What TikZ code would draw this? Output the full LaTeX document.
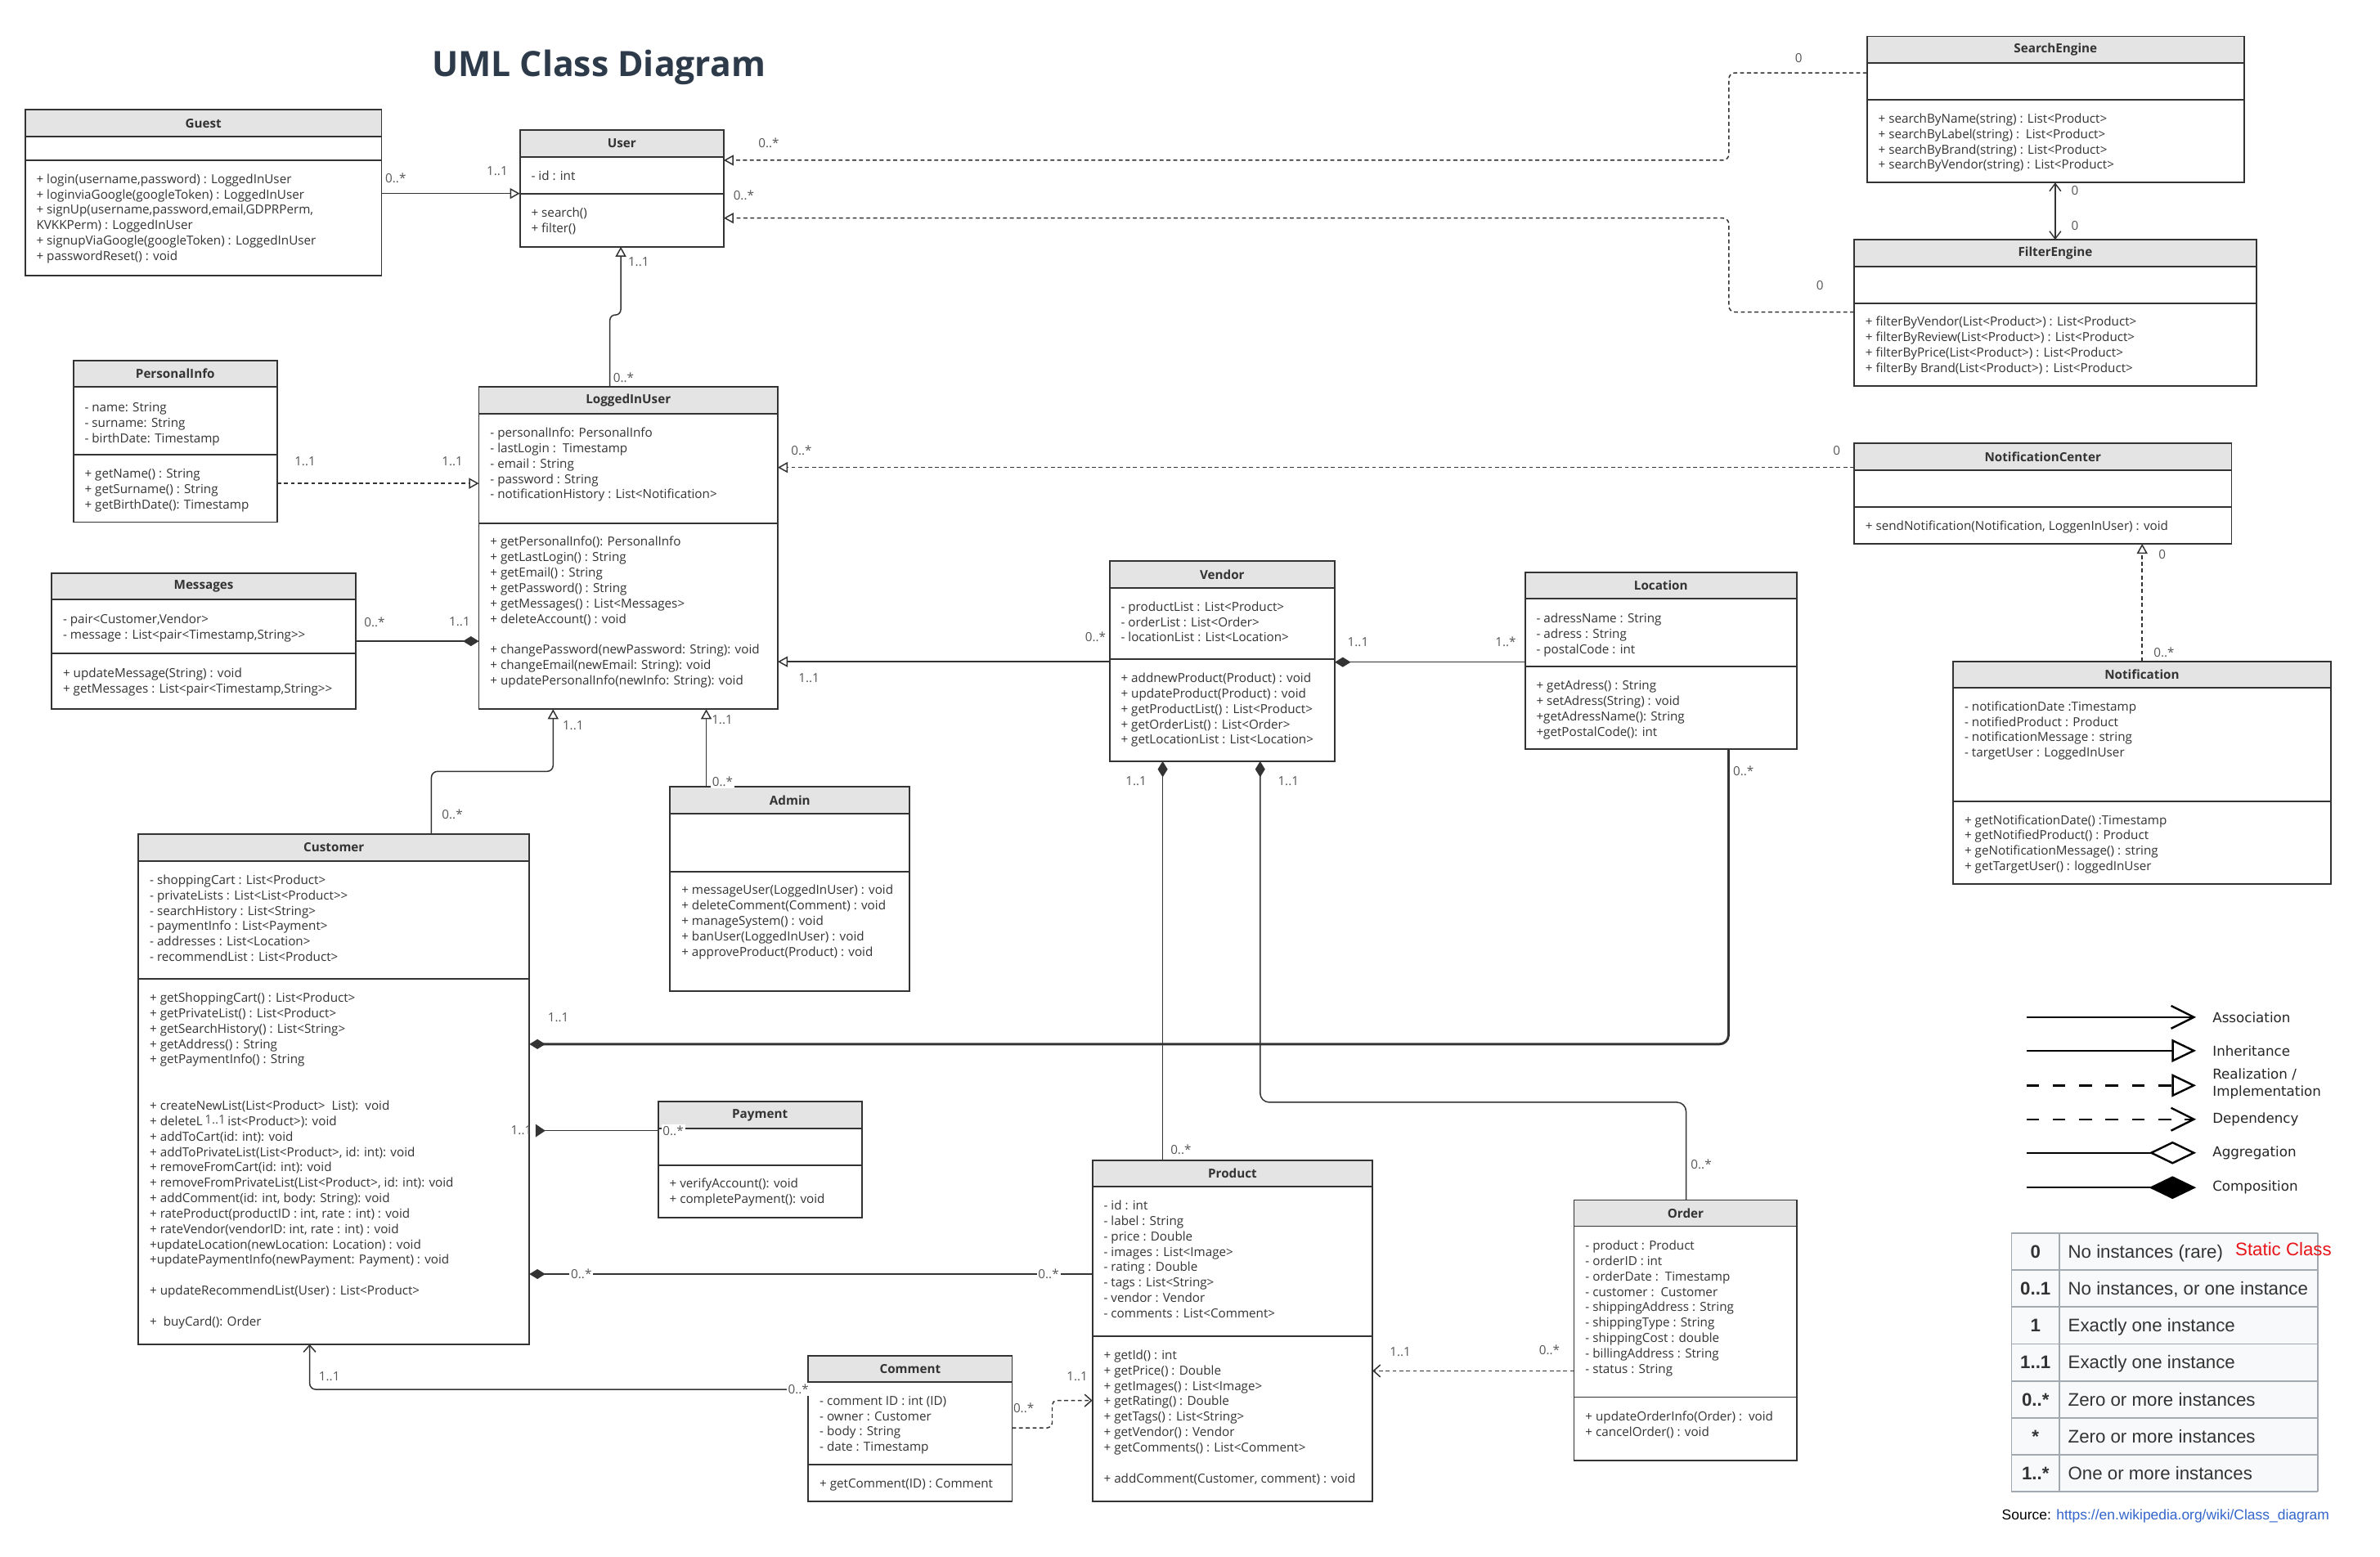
\documentclass[tikz,border=0pt]{standalone}
\usepackage{fontspec}
\setmainfont{Open Sans}
\newfontfamily\osans{Open Sans}
\newfontfamily\dvs{DejaVu Sans}
\newfontfamily\lsans{Liberation Sans}
\usetikzlibrary{arrows.meta}
\definecolor{boxline}{HTML}{333333}
\definecolor{hdrfill}{HTML}{E4E4E4}
\definecolor{txt}{HTML}{333333}
\definecolor{lblcol}{HTML}{555555}
\definecolor{conncol}{HTML}{333333}
\definecolor{titlecol}{HTML}{2D3A4A}
\definecolor{tabfill}{HTML}{F8F9FA}
\definecolor{tabline}{HTML}{A2A9B1}
\definecolor{tabtxt}{HTML}{333333}
\definecolor{linkblue}{HTML}{3366CC}
\definecolor{staticred}{HTML}{E8141A}
\tikzset{
  classbox/.style={draw=boxline, line width=1pt, inner sep=0pt, outer sep=0pt},
  classline/.style={draw=boxline, line width=1pt},
  classtitle/.style={font=\osans\bfseries\fontsize{8.2}{9.8}\selectfont, text=txt, inner sep=0pt},
  classtext/.style={anchor=north west, inner sep=0pt, outer sep=0pt, align=left, font=\osans\fontsize{8.2}{10.15}\selectfont, text=txt},
  conn/.style={draw=conncol, line width=0.8pt},
  dconn/.style={conn, dash pattern=on 2.6pt off 1.9pt},
  inh/.style={-{Triangle[open, length=6.5pt, width=7pt]}},
  compo/.style={{Diamond[length=10.5pt, width=6.5pt]}-},
  dep/.style={-{Straight Barb[length=4.5pt, width=8pt]}},
  mult/.style={font=\osans\fontsize{8.2}{9.8}\selectfont, text=lblcol, inner sep=1pt},
  multw/.style={mult, fill=white},
  legline/.style={draw=black, line width=1.3pt},
  leglabel/.style={anchor=west, align=left, inner sep=0pt, font=\dvs\fontsize{9}{11.6}\selectfont, text=black!85},
  tabk/.style={anchor=base, inner sep=0pt, font=\lsans\bfseries\fontsize{12}{14}\selectfont, text=tabtxt},
  tabd/.style={anchor=base west, inner sep=0pt, font=\lsans\fontsize{12}{14}\selectfont, text=tabtxt},
}
\newcommand\umlclass[8]{%
  \fill[hdrfill] (#2,#3) rectangle (#4,#6);
  \pgfmathsetmacro\umlW{#4-#2}%
  \pgfmathsetmacro\umlH{#5-#3}%
  \node[classbox, minimum width=\umlW pt, minimum height=\umlH pt] (#1) at ({(#2+#4)/2},{(#3+#5)/2}) {};
  \draw[classline] (#2,#6) -- (#4,#6) (#2,#7) -- (#4,#7);
  \node[classtitle] (#1-title) at ({(#2+#4)/2},{(#3+#6)/2}) {#8};
}
\newcommand\umltext[4]{\node[classtext] (#1) at (#2,{#3-4.1}) {\strut #4};}
\begin{document}
\begin{tikzpicture}[x=1pt,y=-1pt]
\useasboundingbox (0,0) rectangle (1568,1025.4);
\fill[white] (0,0) rectangle (1568,1025.4);

\node[anchor=base west, inner sep=0pt, font=\osans\bfseries\fontsize{23}{27}\selectfont, text=titlecol] (title) at (284.4,50.3) {UML Class Diagram};

% ---------- classes ----------
\umlclass{guest}{16.5}{72.4}{251.4}{181.6}{90}{105.6}{Guest}
\umltext{guest-m}{24}{117.8}{+ login(username,password) : LoggedInUser\\+ loginviaGoogle(googleToken) : LoggedInUser\\+ signUp(username,password,email,GDPRPerm,\\KVKKPerm) : LoggedInUser\\+ signupViaGoogle(googleToken) : LoggedInUser\\+ passwordReset() : void}

\umlclass{user}{342.5}{85.9}{476.8}{162.6}{103.3}{127.7}{User}
\umltext{user-a}{350}{115.8}{- id : int}
\umltext{user-m}{350}{140.1}{+ search()\\+ filter()}

\umlclass{pinfo}{48.3}{237.5}{182.6}{344}{255}{299.6}{PersonalInfo}
\umltext{pinfo-a}{55.8}{268.2}{- name: String\\- surname: String\\- birthDate: Timestamp}
\umltext{pinfo-m}{55.8}{312}{+ getName() : String\\+ getSurname() : String\\+ getBirthDate(): Timestamp}

\umlclass{lu}{315.5}{255}{512.4}{467.3}{272.6}{344.9}{LoggedInUser}
\umltext{lu-a}{323}{285}{- personalInfo: PersonalInfo\\- lastLogin :~~Timestamp\\- email : String\\- password : String\\- notificationHistory : List<Notification>}
\umltext{lu-m}{323}{356.9}{+ getPersonalInfo(): PersonalInfo\\+ getLastLogin() : String\\+ getEmail() : String\\+ getPassword() : String\\+ getMessages() : List<Messages>\\+ deleteAccount() : void\\\strut\\+ changePassword(newPassword: String): void\\+ changeEmail(newEmail: String): void\\+ updatePersonalInfo(newInfo: String): void}

\umlclass{msg}{34}{377.5}{234.4}{467.3}{395}{430.7}{Messages}
\umltext{msg-a}{41.5}{407.9}{- pair<Customer,Vendor>\\- message : List<pair<Timestamp,String>{}>}
\umltext{msg-m}{41.5}{443.3}{+ updateMessage(String) : void\\+ getMessages : List<pair<Timestamp,String>{}>}

\umlclass{vendor}{731}{369.5}{879.4}{501.6}{387.4}{434.5}{Vendor}
\umltext{vendor-a}{738.5}{399.6}{- productList : List<Product>\\- orderList : List<Order>\\- locationList : List<Location>}
\umltext{vendor-m}{738.5}{446.7}{+ addnewProduct(Product) : void\\+ updateProduct(Product) : void\\+ getProductList() : List<Product>\\+ getOrderList() : List<Order>\\+ getLocationList : List<Location>}

\umlclass{loc}{1004.7}{377}{1183.8}{493.7}{394.6}{439.1}{Location}
\umltext{loc-a}{1012.2}{407.5}{- adressName : String\\- adress : String\\- postalCode : int}
\umltext{loc-m}{1012.2}{451.5}{+ getAdress() : String\\+ setAdress(String) : void\\+getAdressName(): String\\+getPostalCode(): int}

\umlclass{search}{1230}{24}{1478.5}{120.3}{41.5}{65.9}{SearchEngine}
\umltext{search-m}{1237.5}{78}{+ searchByName(string) : List<Product>\\+ searchByLabel(string) :~~List<Product>\\+ searchByBrand(string) : List<Product>\\+ searchByVendor(string) : List<Product>}

\umlclass{filter}{1221.5}{158}{1486.6}{254.5}{175.6}{199.8}{FilterEngine}
\umltext{filter-m}{1229}{211.9}{+ filterByVendor(List<Product>) : List<Product>\\+ filterByReview(List<Product>) : List<Product>\\+ filterByPrice(List<Product>) : List<Product>\\+ filterBy Brand(List<Product>) : List<Product>}

\umlclass{ncenter}{1221.5}{292}{1470.2}{358.3}{310}{334}{NotificationCenter}
\umltext{ncenter-m}{1229}{346.3}{+ sendNotification(Notification, LoggenInUser) : void}

\umlclass{notif}{1286.8}{435.8}{1535.5}{582.3}{453.3}{527.9}{Notification}
\umltext{notif-a}{1294.3}{465.4}{- notificationDate :Timestamp\\- notifiedProduct : Product\\- notificationMessage : string\\- targetUser : LoggedInUser}
\umltext{notif-m}{1294.3}{540.2}{+ getNotificationDate() :Timestamp\\+ getNotifiedProduct() : Product\\+ geNotificationMessage() : string\\+ getTargetUser() : loggedInUser}

\umlclass{cust}{91.2}{549.5}{348.8}{885.8}{567.2}{645}{Customer}
\umltext{cust-a}{98.7}{579.7}{- shoppingCart : List<Product>\\- privateLists : List<List<Product>{}>\\- searchHistory : List<String>\\- paymentInfo : List<Payment>\\- addresses : List<Location>\\- recommendList : List<Product>}
\umltext{cust-m}{98.7}{657.4}{+ getShoppingCart() : List<Product>\\+ getPrivateList() : List<Product>\\+ getSearchHistory() : List<String>\\+ getAddress() : String\\+ getPaymentInfo() : String\\\strut\\\strut\\+ createNewList(List<Product>~~List):~~void\\+ deleteL\,{\color{lblcol}\raisebox{1pt}{1..1}}\,ist<Product>): void\\+ addToCart(id: int): void\\+ addToPrivateList(List<Product>, id: int): void\\+ removeFromCart(id: int): void\\+ removeFromPrivateList(List<Product>, id: int): void\\+ addComment(id: int, body: String): void\\+ rateProduct(productID : int, rate : int) : void\\+ rateVendor(vendorID: int, rate : int) : void\\+updateLocation(newLocation: Location) : void\\+updatePaymentInfo(newPayment: Payment) : void\\\strut\\+ updateRecommendList(User) : List<Product>\\\strut\\+~~buyCard(): Order}

\umlclass{admin}{441.5}{518.4}{599.3}{653.1}{535.9}{574.4}{Admin}
\umltext{admin-m}{449}{586.4}{+ messageUser(LoggedInUser) : void\\+ deleteComment(Comment) : void\\+ manageSystem() : void\\+ banUser(LoggedInUser) : void\\+ approveProduct(Product) : void}

\umlclass{pay}{433.6}{725.8}{567.7}{802.1}{743.6}{767.8}{Payment}
\umltext{pay-m}{441.1}{779.7}{+ verifyAccount(): void\\+ completePayment(): void}

\umlclass{product}{719.7}{764.6}{904.3}{989.1}{781.8}{880.4}{Product}
\umltext{product-a}{727.2}{794.2}{- id : int\\- label : String\\- price : Double\\- images : List<Image>\\- rating : Double\\- tags : List<String>\\- vendor : Vendor\\- comments : List<Comment>}
\umltext{product-m}{727.2}{892.7}{+ getId() : int\\+ getPrice() : Double\\+ getImages() : List<Image>\\+ getRating() : Double\\+ getTags() : List<String>\\+ getVendor() : Vendor\\+ getComments() : List<Comment>\\\strut\\+ addComment(Customer, comment) : void}

\umlclass{comment}{532.5}{893.2}{666.8}{989.1}{910.6}{965}{Comment}
\umltext{comment-a}{540}{922.8}{- comment ID : int (ID)\\- owner : Customer\\- body : String\\- date : Timestamp}
\umltext{comment-m}{540}{977.2}{+ getComment(ID) : Comment}

\umlclass{order}{1037}{790.7}{1184}{962.2}{808}{920.6}{Order}
\umltext{order-a}{1044.5}{820.6}{- product : Product\\- orderID : int\\- orderDate :~~Timestamp\\- customer :~~Customer\\- shippingAddress : String\\- shippingType : String\\- shippingCost : double\\- billingAddress : String\\- status : String}
\umltext{order-m}{1044.5}{933.1}{+ updateOrderInfo(Order) :~~void\\+ cancelOrder() : void}

% ---------- connectors ----------
\draw[conn, inh] (guest.east |- 0,127.5) -- (user.west |- 0,127.5);
\draw[dconn, inh, rounded corners=4pt] (search.west |- 0,48) -- (1139,48) -- (1139,105.6) -- (user.east |- 0,105.6);
\draw[dconn, inh, rounded corners=4pt] (filter.west |- 0,205.6) -- (1139,205.6) -- (1139,143.7) -- (user.east |- 0,143.7);
\draw[conn, {Straight Barb[length=5pt, width=7.5pt]}-{Straight Barb[length=5pt, width=7.5pt]}] (search.south -| 1354,0) -- (filter.north -| 1354,0);
\draw[conn, inh, rounded corners=3.5pt] (lu.north -| 401.8,0) -- (401.8,207.5) -- (409,207.5) -- (user.south -| 409,0);
\draw[dconn, inh] (pinfo.east |- 0,318.5) -- (lu.west |- 0,318.5);
\draw[conn, compo] (lu.west |- 0,422.5) -- (msg.east |- 0,422.5);
\draw[dconn, inh] (ncenter.west |- 0,308) -- (lu.east |- 0,308);
\draw[conn, inh] (vendor.west |- 0,436) -- (lu.east |- 0,436);
\draw[conn, compo] (vendor.east |- 0,436.3) -- (loc.west |- 0,436.3);
\draw[conn, line width=1.6pt, compo, rounded corners=6pt] (cust.east |- 0,688) -- (1138.8,688) -- (loc.south -| 1138.8,0);
\draw[conn, compo] (vendor.south -| 766,0) -- (product.north -| 766,0);
\draw[conn, compo, rounded corners=6pt] (vendor.south -| 830.2,0) -- (830.2,726.3) -- (1110.8,726.3) -- (order.north -| 1110.8,0);
\draw[conn, compo] (cust.east |- 0,839.5) -- (product.west |- 0,839.5);
\draw[dconn, dep] (order.west |- 0,903.3) -- (product.east |- 0,903.3);
\draw[dconn, dep, rounded corners=3pt] (comment.east |- 0,940.8) -- (693.2,940.8) -- (693.2,922.8) -- (product.west |- 0,922.8);
\draw[conn, dep, rounded corners=4pt] (comment.west |- 0,915.5) -- (204,915.5) -- (cust.south -| 204,0);
\draw[conn, {Triangle[reversed, length=6.5pt, width=8.5pt]}-, shorten <=4pt] (cust.east |- 0,745) -- (pay.west |- 0,745);
\draw[conn, inh, rounded corners=4pt] (cust.north -| 284.2,0) -- (284.2,508.3) -- (364.4,508.3) -- (lu.south -| 364.4,0);
\draw[conn, inh] (admin.north -| 465.3,0) -- (lu.south -| 465.3,0);
\draw[dconn, inh] (notif.north -| 1411.3,0) -- (ncenter.south -| 1411.3,0);

% ---------- multiplicities ----------
\node[mult] (m1) at (260.7,117.6) {0..*};
\node[mult] (m2) at (327.6,112.8) {1..1};
\node[mult] (m3) at (506.5,94.3) {0..*};
\node[mult] (m4) at (1185,38.5) {0};
\node[mult] (m5) at (490,128.8) {0..*};
\node[mult] (m6) at (1199,188) {0};
\node[mult] (m7) at (1367,125.7) {0};
\node[mult] (m8) at (1367,148.5) {0};
\node[mult] (m9) at (420.7,172.4) {1..1};
\node[mult] (m10) at (410.8,248.8) {0..*};
\node[mult] (m11) at (201,304) {1..1};
\node[mult] (m12) at (298,304) {1..1};
\node[mult] (m13) at (246.8,410) {0..*};
\node[mult] (m14) at (302.8,409.5) {1..1};
\node[mult] (m15) at (528,296.7) {0..*};
\node[mult] (m16) at (1210,296.7) {0};
\node[mult] (m17) at (721.7,419.4) {0..*};
\node[mult] (m18) at (533,447) {1..1};
\node[mult] (m19) at (894.7,423) {1..1};
\node[mult] (m20) at (992,423) {1..*};
\node[mult] (m21) at (1148.6,508) {0..*};
\node[mult] (m22) at (367.8,670.5) {1..1};
\node[mult] (m23) at (748.5,514.6) {1..1};
\node[mult] (m24) at (778,757.6) {0..*};
\node[mult] (m25) at (848.8,514.6) {1..1};
\node[mult] (m26) at (1120.8,767.3) {0..*};
\node[multw] (m27) at (383,839.5) {0..*};
\node[multw] (m28) at (690.8,839.5) {0..*};
\node[mult] (m29) at (922.5,891) {1..1};
\node[mult] (m30) at (1020.8,889.4) {0..*};
\node[mult] (m31) at (674.4,928) {0..*};
\node[mult] (m32) at (709.7,907.2) {1..1};
\node[multw] (m33) at (526,915.5) {0..*};
\node[mult] (m34) at (217,907) {1..1};
\node[mult] (m35) at (343.5,745) {1..1};
\node[multw] (m36) at (443.5,745) {0..*};
\node[mult] (m37) at (377.6,477.8) {1..1};
\node[mult] (m38) at (298,536.7) {0..*};
\node[mult] (m39) at (475.8,474.2) {1..1};
\node[multw] (m40) at (476,515) {0..*};
\node[mult] (m41) at (1424.5,365.5) {0};
\node[multw] (m42) at (1425.7,430) {0..*};

% ---------- legend ----------
\coordinate (lgA1) at (1335,670.2); \coordinate (lgA2) at (1446.8,670.2);
\coordinate (lgB1) at (1335,692.3); \coordinate (lgB2) at (1446.8,692.3);
\coordinate (lgC1) at (1335,715.2); \coordinate (lgC2) at (1446.8,715.2);
\coordinate (lgD1) at (1335,737.5); \coordinate (lgD2) at (1446.8,737.5);
\coordinate (lgE1) at (1335,759.6); \coordinate (lgE2) at (1446.8,759.6);
\coordinate (lgF1) at (1335,782.5); \coordinate (lgF2) at (1446.8,782.5);
\draw[legline, -{Straight Barb[length=15pt, width=15pt]}] (lgA1) -- (lgA2);
\draw[legline, -{Triangle[open, length=16pt, width=15pt]}] (lgB1) -- (lgB2);
\draw[legline, dash pattern=on 8.4pt off 9pt, -{Triangle[open, length=16pt, width=15pt]}] (lgC1) -- (lgC2);
\draw[legline, dash pattern=on 8.4pt off 9pt, -{Straight Barb[length=15pt, width=15pt]}] (lgD1) -- (lgD2);
\draw[legline, -{Diamond[open, length=31pt, width=15pt]}] (lgE1) -- (lgE2);
\draw[legline, -{Diamond[length=31pt, width=15pt]}] (lgF1) -- (lgF2);
\node[leglabel] (lgtA) at (1457.5,670.2) {Association};
\node[leglabel] (lgtB) at (1457.5,692.3) {Inheritance};
\node[leglabel] (lgtC) at (1457.5,714.2) {Realization /\\Implementation};
\node[leglabel] (lgtD) at (1457.5,737.5) {Dependency};
\node[leglabel] (lgtE) at (1457.5,759.6) {Aggregation};
\node[leglabel] (lgtF) at (1457.5,782.5) {Composition};

% ---------- multiplicity table ----------
\fill[tabfill] (1325.2,812.5) rectangle (1527.2,982.9);
\foreach \k in {0,...,7} \draw[tabline, line width=1pt] (1325.2,{812.5+24.34*\k}) -- (1527.2,{812.5+24.34*\k});
\draw[tabline, line width=1pt] (1325.2,812.5) -- (1325.2,982.9) (1356.6,812.5) -- (1356.6,982.9) (1527.2,812.5) -- (1527.2,982.9);
\foreach \m/\d [count=\i from 0] in {0/No instances (rare), 0..1/{No instances, or one instance}, 1/Exactly one instance, 1..1/Exactly one instance, 0..*/Zero or more instances, */Zero or more instances, 1..*/One or more instances} {
  \node[tabk] (tk\i) at (1341,{812.5+24.34*(\i+0.5)+4.3}) {\m};
  \node[tabd] (td\i) at (1362.3,{812.5+24.34*(\i+0.5)+4.3}) {\d};
}
\node[anchor=base west, inner sep=0pt, font=\lsans\fontsize{12}{14}\selectfont, text=staticred] (static) at (1472.5,827.6) {Static Class};
\node[anchor=base west, inner sep=0pt, font=\lsans\fontsize{9.4}{11}\selectfont, text=black] (src) at (1318.7,1001.2) {Source: \textcolor{linkblue}{https://en.wikipedia.org/wiki/Class\_diagram}};
\end{tikzpicture}
\end{document}
